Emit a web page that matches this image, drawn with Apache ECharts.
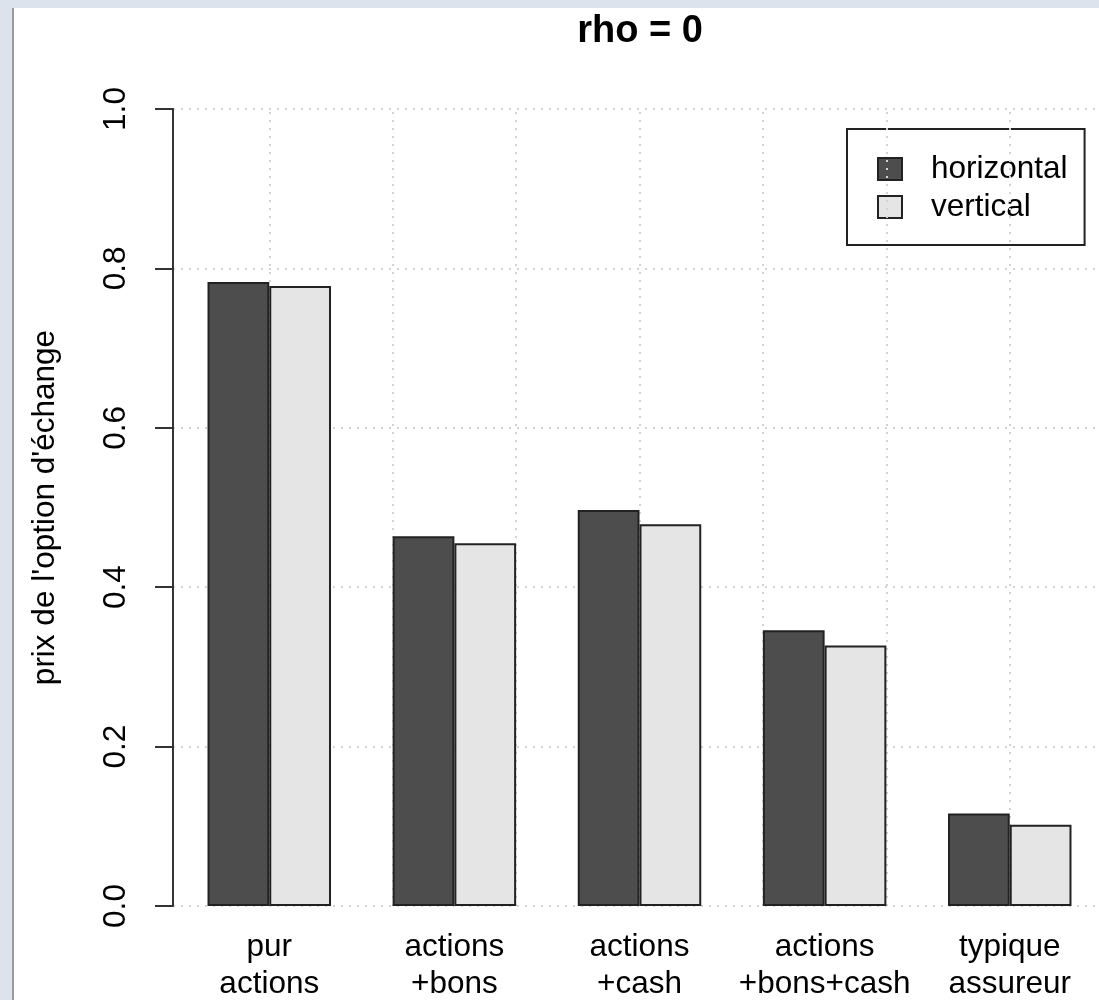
<!DOCTYPE html>
<html>
<head>
<meta charset="utf-8">
<script src="https://cdn.jsdelivr.net/npm/echarts@6/dist/echarts.min.js"></script>
<style>
html, body { margin: 0; padding: 0; background: #dce3ec; }
#panel { position: absolute; left: 12px; top: 8px; width: 1087px; height: 992px; background: #fff; border-left: 2px solid #9a9a9a; box-sizing: border-box; }
#chart { position: absolute; left: 0; top: 0; width: 1099px; height: 1000px; }
</style>
</head>
<body>
<div id="panel"></div>
<div id="chart"></div>
<script>
// bar groups, in axis units (each group is two bars wide, one unit of space between)
const categories = ['pur\nactions', 'actions\n+bons', 'actions\n+cash', 'actions\n+bons+cash', 'typique\nassureur']
const groupPos = [2, 5, 8, 11, 14]
const horizontal = [0.783, 0.464, 0.497, 0.346, 0.116]
const vertical = [0.778, 0.455, 0.479, 0.327, 0.102]
const xGridLines = [2, 4, 6, 8, 10, 12, 14]

const font = "'Liberation Sans', Arial, sans-serif"
const dotted = { color: '#d3d3d3', width: 2, type: [2, 6] }

const chart = echarts.init(document.getElementById('chart'))

const option = {
  backgroundColor: 'transparent',
  animation: false,
  title: {
    text: 'rho = 0',
    left: 640,
    top: 13,
    padding: 0,
    textAlign: 'center',
    textStyle: { fontFamily: font, fontSize: 38, fontWeight: 'bold', color: '#000' }
  },
  legend: {
    orient: 'vertical',
    left: 847,
    top: 129,
    padding: [24, 17, 22, 30],
    borderColor: '#222',
    borderWidth: 2,
    itemWidth: 24,
    itemHeight: 22,
    itemGap: 6,
    icon: 'rect',
    data: ['horizontal', 'vertical'],
    formatter: '{t|{name}}',
    textStyle: {
      fontFamily: font,
      fontSize: 31.5,
      color: '#000',
      rich: { t: { fontFamily: font, fontSize: 31.5, lineHeight: 32, padding: [0, 0, 0, 24], color: '#000' } }
    }
  },
  grid: { left: 173, top: 109, width: 933, bottom: 94, outerBoundsMode: 'none', containLabel: false },
  xAxis: {
    type: 'value',
    min: 0.44,
    max: 15.56,
    axisLine: { show: false },
    axisTick: { show: false },
    splitLine: { show: false },
    axisLabel: {
      customValues: groupPos,
      formatter: function (v) {
        const i = groupPos.indexOf(v)
        return i >= 0 ? categories[i] : ''
      },
      fontFamily: font,
      fontSize: 31.5,
      lineHeight: 37,
      margin: 23,
      color: '#000'
    }
  },
  yAxis: {
    type: 'value',
    min: 0,
    max: 1,
    interval: 0.2,
    name: "prix de l'option d'échange",
    nameLocation: 'middle',
    nameGap: 112,
    nameTextStyle: { fontFamily: font, fontSize: 31.5, color: '#000' },
    axisLine: { show: true, lineStyle: { color: '#333', width: 2 } },
    axisTick: { show: true, length: 18, lineStyle: { color: '#333', width: 2 } },
    axisLabel: {
      rotate: 90,
      margin: 41,
      fontFamily: font,
      fontSize: 31.5,
      color: '#000',
      formatter: function (v) { return v.toFixed(1) }
    },
    splitLine: { show: true, lineStyle: dotted }
  },
  series: [
    {
      // carries only the vertical dotted grid lines
      name: 'grid',
      type: 'line',
      data: [],
      silent: true,
      markLine: {
        silent: true,
        symbol: 'none',
        label: { show: false },
        lineStyle: dotted,
        data: xGridLines.map(v => ({ xAxis: v }))
      }
    },
    {
      name: 'horizontal',
      type: 'bar',
      barWidth: 61.75,
      barGap: '0%',
      z: 6,
      data: groupPos.map((x, i) => [x, horizontal[i]]),
      itemStyle: { color: '#4d4d4d', borderColor: '#222', borderWidth: 2 }
    },
    {
      name: 'vertical',
      type: 'bar',
      barWidth: 61.75,
      barGap: '0%',
      z: 6,
      data: groupPos.map((x, i) => [x, vertical[i]]),
      itemStyle: { color: '#e5e5e5', borderColor: '#222', borderWidth: 2 }
    }
  ]
}

chart.setOption(option, true)
window.addEventListener('resize', () => {
  chart.resize()
})
</script>
</body>
</html>
